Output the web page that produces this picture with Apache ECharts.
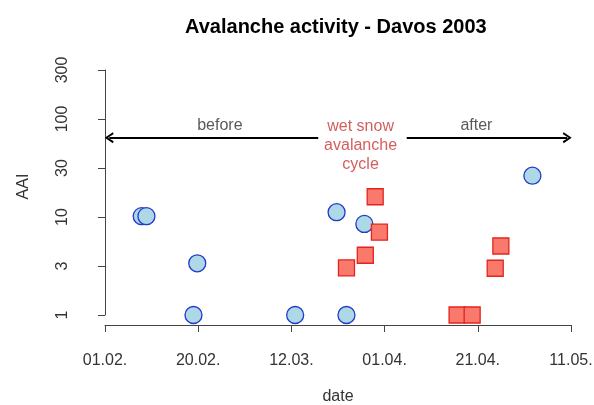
<!DOCTYPE html>
<html><head><meta charset="utf-8">
<script src="https://cdn.jsdelivr.net/npm/echarts@6/dist/echarts.min.js"></script>
<style>html,body{margin:0;padding:0;background:#fff}#c{width:594px;height:405px}</style>
</head><body><div id="c"></div>
<script>
// x values: days after 01.02.2003 ; y values: avalanche activity index (AAI)
const xTickLabels = ['01.02.', '20.02.', '12.03.', '01.04.', '21.04.', '11.05.'];
const yTickLabels = ['1', '3', '10', '30', '100', '300'];

const circleDay = [7.8, 8.8, 18.8, 19.6, 40.4, 49.2, 51.3, 55.1, 90.8];
const circleAAI = [10.2, 10.2, 1, 3.37, 1, 11.2, 1, 8.5, 26.4];

const squareDay = [51.3, 55.3, 57.4, 58.3, 74.8, 78.0, 82.9, 84.1];
const squareAAI = [3.02, 4.07, 16.1, 7.0, 1, 1, 3.0, 5.06];

// annotation (data coordinates)
const arrowAAI = 64.5;
const arrowFromDay = [0.9, 64.1];
const arrowToDay = [45.3, 98.2];
const noteDay = [24.4, 54.3, 78.9];
const noteAAI = [84.9, 53.0, 84.9];
const noteText = ['before', 'wet snow\navalanche\ncycle', 'after'];
const noteColor = ['#2e2e2e', '#c83535', '#2e2e2e'];

const FONT = 'Liberation Sans, Arial, sans-serif';
const arrowPath = 'path://M6,0 L12,9 L10,10 L6,3.6 L2,10 L0,9 Z';
const tickStep = 19.8;

const chart = echarts.init(document.getElementById('c'), null, {renderer: 'canvas'});
chart.setOption({
  animation: false,
  backgroundColor: '#ffffff',
  title: {
    text: 'Avalanche activity - Davos 2003',
    left: 185, top: 17, padding: 0,
    textStyle: {fontFamily: FONT, fontSize: 20, fontWeight: 'bold', color: '#000'}
  },
  grid: {left: 105, right: 23, top: 70, bottom: 90, containLabel: false, outerBoundsMode: 'none'},
  xAxis: {
    type: 'value', min: 0, max: 99, interval: tickStep,
    offset: 10,
    name: 'date', nameLocation: 'middle', nameGap: 64,
    nameTextStyle: {fontFamily: FONT, fontSize: 16, color: '#333'},
    axisLine: {show: true, lineStyle: {color: '#444', width: 1}},
    axisTick: {show: true, length: 7, lineStyle: {color: '#444'}},
    axisLabel: {
      fontFamily: FONT, fontSize: 16, color: '#333', margin: 28,
      formatter: v => xTickLabels[Math.round(v / tickStep)]
    },
    splitLine: {show: false}
  },
  yAxis: {
    type: 'log', logBase: Math.sqrt(10), min: 1, max: Math.pow(10, 2.5),
    offset: 20,
    name: 'AAI', nameLocation: 'middle', nameGap: 53, nameRotate: 90,
    nameTextStyle: {fontFamily: FONT, fontSize: 16, color: '#333', padding: [0, 0, 0, 12]},
    axisLine: {show: true, lineStyle: {color: '#444', width: 1}},
    axisTick: {show: true, length: 7, lineStyle: {color: '#444'}},
    axisLabel: {
      fontFamily: FONT, fontSize: 16, color: '#333', margin: 14, rotate: 90,
      formatter: v => yTickLabels[Math.round(2 * Math.log10(v))]
    },
    splitLine: {show: false}
  },
  series: [
    {
      name: 'before/after', type: 'scatter', clip: false, z: 3,
      symbol: 'circle', symbolSize: 17,
      itemStyle: {color: '#ADD8E6', borderColor: '#2438cc', borderWidth: 1.3, opacity: 1},
      data: circleDay.map((d, i) => [d, circleAAI[i]])
    },
    {
      name: 'wet snow cycle', type: 'scatter', clip: false, z: 4,
      symbol: 'rect', symbolSize: 16,
      itemStyle: {color: '#F9796D', borderColor: '#E3241F', borderWidth: 1.3, opacity: 1},
      data: squareDay.map((d, i) => [d, squareAAI[i]])
    },
    {
      name: 'notes', type: 'scatter', clip: false, silent: true, z: 5,
      symbol: 'circle', symbolSize: 1,
      itemStyle: {color: 'rgba(0,0,0,0)'},
      label: {show: true, position: 'inside', fontFamily: FONT, fontSize: 16, lineHeight: 19, align: 'center',
        formatter: p => p.name},
      data: noteText.map((t, i) => ({name: t, value: [noteDay[i], noteAAI[i]], label: {color: noteColor[i]}})),
      markLine: {
        silent: true, animation: false,
        symbolSize: [11, 9],
        label: {show: false},
        lineStyle: {color: '#000', width: 2, type: 'solid'},
        data: arrowFromDay.map((d, i) => [
          {coord: [d, arrowAAI], symbol: i === 0 ? arrowPath : 'none'},
          {coord: [arrowToDay[i], arrowAAI], symbol: i === 1 ? arrowPath : 'none'}
        ])
      }
    }
  ]
});
</script>
</body></html>
